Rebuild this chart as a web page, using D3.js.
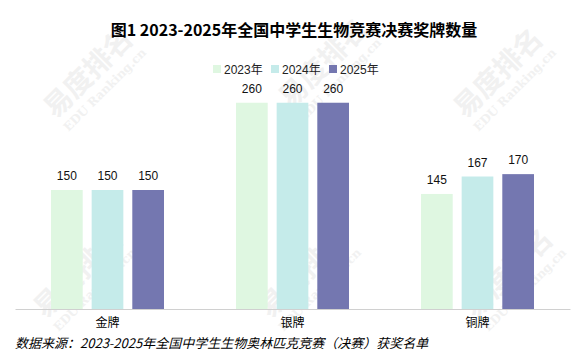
<!DOCTYPE html>
<html>
<head>
<meta charset="utf-8">
<script src="https://cdn.jsdelivr.net/npm/d3@7"></script>
<style>
  body { margin: 0; background: #fff; }
  svg { display: block; }
</style>
</head>
<body>
<div id="chart"></div>
<script>
var categories = ["金牌", "银牌", "铜牌"]
var years = ["2023年", "2024年", "2025年"]
var values2023 = [150, 260, 145]
var values2024 = [150, 260, 167]
var values2025 = [150, 260, 170]
var colors = ["#dff7e1", "#c5ebea", "#7477b0"]

var seriesValues = [values2023, values2024, values2025]

function drawChart() {
  var width = 579, height = 352
  var margin = {top: 71, right: 9, bottom: 43, left: 15}
  var boundedWidth = width - margin.left - margin.right
  var boundedHeight = height - margin.top - margin.bottom

  var rows = []
  categories.forEach(function(c, i) {
    years.forEach(function(y, j) {
      rows.push({cat: c, year: y, value: seriesValues[j][i], idx: j})
    })
  })

  var svg = d3.select("#chart").append("svg")
    .attr("width", width)
    .attr("height", height)

  // faint watermark tiles
  var wm = svg.append("g").attr("class", "watermark")
  var tiles = [[95, 80], [330, 70], [505, 80], [85, 280], [310, 280], [515, 280]]
  tiles.forEach(function(p) {
    var g = wm.append("g").attr("transform", "translate(" + p[0] + "," + p[1] + ") rotate(-45)")
    g.append("text")
      .attr("text-anchor", "middle")
      .style("font-family", "Noto Sans CJK SC")
      .style("font-weight", "bold")
      .style("font-size", "28px")
      .style("fill", "#f1f1f1")
      .text("易度排名")
    g.append("text")
      .attr("text-anchor", "middle")
      .attr("y", 18)
      .style("font-family", "DejaVu Serif")
      .style("font-weight", "bold")
      .style("font-size", "12px")
      .style("fill", "#f1f1f1")
      .text("EDU Ranking.cn")
  })

  svg.append("text")
    .attr("x", 294)
    .attr("y", 36)
    .attr("text-anchor", "middle")
    .style("font-family", "Noto Sans CJK SC")
    .style("font-weight", "bold")
    .style("font-size", "16px")
    .style("fill", "#000")
    .text("图1 2023-2025年全国中学生生物竞赛决赛奖牌数量")

  // legend
  var legend = svg.append("g").attr("transform", "translate(213,65)")
  years.forEach(function(y, i) {
    var item = legend.append("g").attr("transform", "translate(" + (i * 58) + ",0)")
    item.append("rect")
      .attr("width", 8).attr("height", 8)
      .attr("fill", colors[i])
    item.append("text")
      .attr("x", 11).attr("y", 8.5)
      .style("font-family", "Liberation Sans, Noto Sans CJK SC")
      .style("font-size", "12px")
      .style("fill", "#222")
      .text(y)
  })

  var bounds = svg.append("g")
    .attr("transform", "translate(" + margin.left + "," + margin.top + ")")

  var xScale = d3.scaleBand()
    .domain(categories)
    .range([0, boundedWidth])

  var xInner = d3.scaleBand()
    .domain(years)
    .range([xScale.bandwidth() / 2 - 56.5, xScale.bandwidth() / 2 + 56.5])
    .paddingInner(0.22)

  var yScale = d3.scaleLinear()
    .domain([0, 300])
    .range([boundedHeight, 0])

  bounds.selectAll(".bar")
    .data(rows).enter()
    .append("rect")
    .attr("class", "bar")
    .attr("x", d => xScale(d.cat) + xInner(d.year))
    .attr("y", d => yScale(d.value))
    .attr("width", xInner.bandwidth())
    .attr("height", d => boundedHeight - yScale(d.value))
    .attr("fill", d => colors[d.idx])

  bounds.selectAll(".value")
    .data(rows).enter()
    .append("text")
    .attr("class", "value")
    .attr("x", d => xScale(d.cat) + xInner(d.year) + xInner.bandwidth() / 2)
    .attr("y", d => yScale(d.value) - 10)
    .attr("text-anchor", "middle")
    .style("font-family", "Liberation Sans")
    .style("font-size", "12px")
    .style("fill", "#111")
    .text(d => d.value)

  var xAxis = bounds.append("g")
    .attr("transform", "translate(0," + boundedHeight + ")")
    .call(d3.axisBottom(xScale).tickSize(0).tickPadding(9))
  xAxis.select(".domain").attr("stroke", "#d0d0d0")
  xAxis.selectAll("text")
    .style("font-family", "Noto Sans CJK SC")
    .style("font-size", "12px")
    .style("fill", "#000")

  svg.append("text")
    .attr("x", 15)
    .attr("y", 348)
    .style("font-family", "Noto Sans CJK SC")
    .style("font-style", "italic")
    .style("font-size", "13px")
    .style("fill", "#000")
    .text("数据来源：2023-2025年全国中学生生物奥林匹克竞赛（决赛）获奖名单")
}

drawChart()
</script>
</body>
</html>
